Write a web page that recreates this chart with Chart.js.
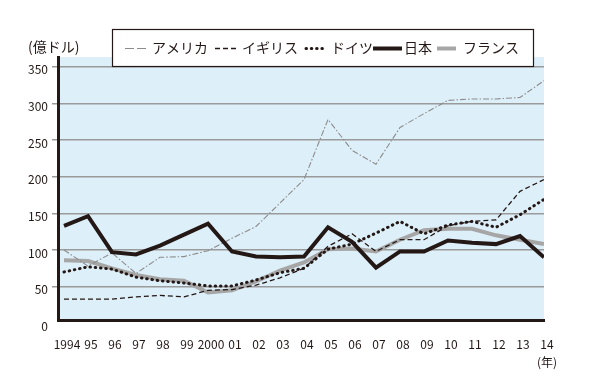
<!DOCTYPE html>
<html>
<head>
<meta charset="utf-8">
<script src="https://cdn.jsdelivr.net/npm/chart.js@4/dist/chart.umd.min.js"></script>
<style>
html,body{margin:0;padding:0;background:#fff;}
canvas{display:block;}
</style>
</head>
<body>
<canvas id="c" width="600" height="383"></canvas>
<script>
const years = ['1994','95','96','97','98','99','2000','01','02','03','04','05','06','07','08','09','10','11','12','13','14'];
const seriesNames = ['アメリカ','イギリス','ドイツ','日本','フランス'];
const usa     = [100, 78, 96, 68, 90, 91, 99,116,132,164,196,278,236,217,267,286,304,306,306,308,331];
const uk      = [ 33, 33, 33, 36, 38, 36, 45, 46, 52, 62, 75,105,122, 98,114,114,133,139,141,180,196];
const germany = [ 70, 77, 74, 63, 58, 55, 51, 51, 59, 69, 75,101,108,123,139,122,134,139,131,148,169];
const japan   = [133,146, 97, 94,106,121,136, 98, 91, 90, 91,131,111, 76, 98, 98,113,110,108,119, 90];
const france  = [ 86, 85, 75, 66, 60, 58, 42, 45, 57, 72, 83,101,102, 98,114,127,129,129,120,114,108];
const yTicks  = [0,50,100,150,200,250,300,350];
const unitLabel = '(億ドル)';
const yearUnit = '(年)';

const FONT = '"Noto Sans CJK JP", "Noto Sans", sans-serif';
const INK = '#231815';

function pts(arr){ return arr.map((v,i)=>({x:i,y:v})); }

const datasets = [
  {label:seriesNames[0], data:pts(usa), borderColor:'#8c8c8c', borderWidth:1.1, borderDash:[6,2,1.5,2], order:4},
  {label:seriesNames[1], data:pts(uk), borderColor:INK, borderWidth:1.3, borderDash:[5,3], order:3},
  {label:seriesNames[2], data:pts(germany), borderColor:INK, borderWidth:3, borderDash:[0.5,4.8], borderCapStyle:'round', order:2},
  {label:seriesNames[3], data:pts(japan), borderColor:INK, borderWidth:4, order:1},
  {label:seriesNames[4], data:pts(france), borderColor:'#a6a6a6', borderWidth:4, order:5}
];
datasets.forEach(d=>{ d.pointRadius=0; d.fill=false; d.tension=0; d.borderJoinStyle='miter'; d.backgroundColor=d.borderColor; });

const bgPlugin = {
  id:'bg',
  beforeDraw(chart){
    const {ctx, chartArea:a} = chart;
    ctx.save();
    ctx.fillStyle = '#ddeff9';
    ctx.fillRect(a.left, a.top, a.right-a.left, a.bottom-a.top);
    ctx.restore();
  }
};

const legendPlugin = {
  id:'boxLegend',
  afterDraw(chart){
    const ctx = chart.ctx;
    ctx.save();
    ctx.font = '14px ' + FONT;
    ctx.fillStyle = INK;
    ctx.textBaseline = 'middle';
    ctx.textAlign = 'left';
    ctx.fillText(unitLabel, 28, 47);
    ctx.fillStyle = '#fff';
    ctx.fillRect(112, 29, 421, 37);
    ctx.strokeStyle = INK;
    ctx.lineWidth = 1.2;
    ctx.strokeRect(112.5, 29.5, 421, 37);
    const sampleW = [21, 22, 21, 29, 19];
    const gapBefore = [6, 5, 4, 2, 7];
    const startX = [125, 215, 306, 373, 437];
    const y = 48;
    ctx.font = '14px ' + FONT;
    chart.data.datasets.forEach((ds, i) => {
      const x = startX[i];
      ctx.save();
      ctx.strokeStyle = ds.borderColor;
      ctx.lineWidth = ds.borderWidth;
      ctx.setLineDash(i===0 ? [9,3] : (ds.borderDash || []));
      ctx.lineCap = ds.borderCapStyle || 'butt';
      ctx.beginPath();
      ctx.moveTo(x, y + 0.5);
      ctx.lineTo(x + sampleW[i], y + 0.5);
      ctx.stroke();
      ctx.restore();
      ctx.fillStyle = INK;
      ctx.fillText(ds.label, x + sampleW[i] + gapBefore[i], y);
    });
    ctx.restore();
  }
};

new Chart(document.getElementById('c'), {
  type:'line',
  data:{datasets},
  options:{
    responsive:false,
    devicePixelRatio:1,
    animation:false,
    layout:{padding:{left:0, right:56, top:57, bottom:3}},
    plugins:{legend:{display:false}, tooltip:{enabled:false}},
    scales:{
      x:{
        type:'linear',
        min:-0.25, max:20,
        afterBuildTicks(s){ s.ticks = years.map((_,i)=>({value:i})); },
        afterFit(s){ s.height = 60; },
        grid:{display:false, drawTicks:false},
        border:{display:true, color:INK, width:3},
        ticks:{
          autoSkip:false, maxRotation:0, padding:15, labelOffset:3,
          color:INK, font:{family:FONT, size:12, lineHeight:1.5},
          callback:(v)=> v===years.length-1 ? [years[v], yearUnit] : years[v]
        }
      },
      y:{
        type:'linear',
        min:4.5, max:363.2,
        afterBuildTicks(s){ s.ticks = yTicks.map(v=>({value:v})); },
        afterFit(s){ s.width = 58; },
        grid:{
          color:(c)=> (c.tick && c.tick.value===0) ? 'rgba(0,0,0,0)' : '#9a9a9a',
          lineWidth:1.5, tickLength:6, drawTicks:true
        },
        border:{display:true, color:INK, width:3},
        ticks:{padding:4, labelOffset:3, color:INK, font:{family:FONT, size:12}}
      }
    }
  },
  plugins:[bgPlugin, legendPlugin]
});
</script>
</body>
</html>
